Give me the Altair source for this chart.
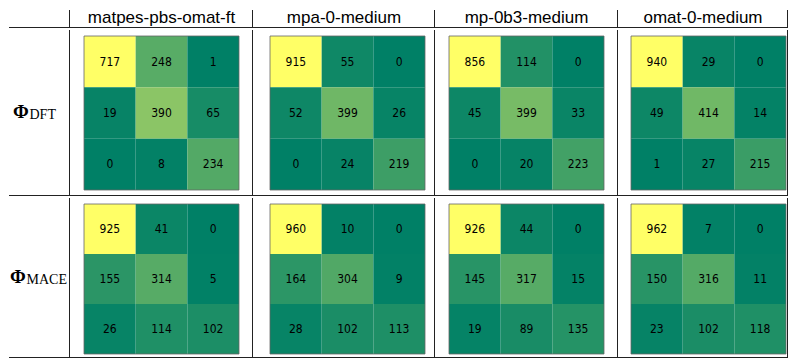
import altair as alt
import pandas as pd

# ---- data ----
models = ["matpes-pbs-omat-ft", "mpa-0-medium", "mp-0b3-medium", "omat-0-medium"]
row_labels = ["DFT", "MACE"]

dft_matpes = [[717, 248, 1], [19, 390, 65], [0, 8, 234]]
dft_mpa = [[915, 55, 0], [52, 399, 26], [0, 24, 219]]
dft_mp0b3 = [[856, 114, 0], [45, 399, 33], [0, 20, 223]]
dft_omat = [[940, 29, 0], [49, 414, 14], [1, 27, 215]]

mace_matpes = [[925, 41, 0], [155, 314, 5], [26, 114, 102]]
mace_mpa = [[960, 10, 0], [164, 304, 9], [28, 102, 113]]
mace_mp0b3 = [[926, 44, 0], [145, 317, 15], [19, 89, 135]]
mace_omat = [[962, 7, 0], [150, 316, 11], [23, 102, 118]]

matrices = [
    [dft_matpes, dft_mpa, dft_mp0b3, dft_omat],
    [mace_matpes, mace_mpa, mace_mp0b3, mace_omat],
]

# ---- layout (pixels) ----
LABEL_W = 61
COL_W = [183, 182, 183, 170]
HEAD_H = 18
ROW_H = [166, 160]
HEAT_LEFT = [14, 17, 14, 13]
HEAT_TOP = [6, 6]
HEAT_W = 155
HEAT_H = [154, 150]
LABEL_X = [4, 1]
LABEL_BASE = [88, 85]
LINE = "#222222"
ONE = alt.Data(values=[{"k": 0}])


def borders(w, h):
    return [
        alt.Chart(ONE).mark_rule(color=LINE, strokeWidth=1).encode(
            x=alt.value(w - 0.5), y=alt.value(0), y2=alt.value(h)
        ),
        alt.Chart(ONE).mark_rule(color=LINE, strokeWidth=1).encode(
            x=alt.value(0), x2=alt.value(w), y=alt.value(h - 0.5)
        ),
    ]


def heat_cell(mat, w, h, left, top, hh):
    cw = HEAT_W / 3.0
    ch = hh / 3.0
    recs = []
    for i in range(3):
        for j in range(3):
            recs.append(dict(r0=i, r1=i + 1, rm=i + 0.5, c0=j, c1=j + 1, cm=j + 0.5, v=mat[i][j]))
    df = pd.DataFrame(recs)
    vmax = max(max(r) for r in mat)
    vmin = min(min(r) for r in mat)
    xs = alt.Scale(domain=[-left / cw, (w - left) / cw], nice=False, zero=False)
    ys = alt.Scale(domain=[-top / ch, (h - top) / ch], nice=False, zero=False, reverse=True)
    bottom_gap = h - top - hh
    xax = alt.Axis(values=[0.5, 1.5, 2.5], labels=False, title=None, domain=False,
                   grid=False, tickSize=3, tickColor="#999999", tickWidth=1,
                   offset=-bottom_gap)
    yax = alt.Axis(values=[0.5, 1.5, 2.5], labels=False, title=None, domain=False,
                   grid=False, tickSize=3, tickColor="#999999", tickWidth=1,
                   offset=-left)
    base = alt.Chart(df)
    rect = base.mark_rect().encode(
        x=alt.X("c0:Q", scale=xs, axis=xax),
        x2="c1:Q",
        y=alt.Y("r0:Q", scale=ys, axis=yax),
        y2="r1:Q",
        color=alt.Color("v:Q", scale=alt.Scale(domain=[vmin, vmax],
                                               range=["#008066", "#ffff66"],
                                               interpolate="rgb"), legend=None),
    )
    text = base.mark_text(font="DejaVu Sans Condensed, DejaVu Sans", fontSize=12,
                          color="black", baseline="middle").encode(
        x=alt.X("cm:Q", scale=xs, axis=None),
        y=alt.Y("rm:Q", scale=ys, axis=None),
        text="v:Q",
    )
    frame = alt.Chart(ONE).mark_rect(filled=False, stroke="#666666", strokeWidth=0.8).encode(
        x=alt.datum(0, scale=xs, axis=None), x2=alt.datum(3),
        y=alt.datum(0, scale=ys, axis=None), y2=alt.datum(3),
    )
    return alt.layer(rect, frame, text, *borders(w, h)).properties(width=w, height=h)


def header_cell(name, w, h):
    t = alt.Chart(alt.Data(values=[{"name": name}])).mark_text(
        font="Liberation Sans", fontSize=17, color="black", baseline="alphabetic", align="center"
    ).encode(x=alt.value(w / 2), y=alt.value(12.5), text="name:N")
    return alt.layer(t, *borders(w, h)).properties(width=w, height=h)


def label_cell(sub, w, h, x0, base_y):
    d = alt.Data(values=[{"phi": "Φ", "sub": sub}])
    phi = alt.Chart(d).mark_text(font="Liberation Serif", fontSize=19, fontWeight="bold",
                                 color="black", baseline="alphabetic", align="left").encode(
        x=alt.value(x0), y=alt.value(base_y), text="phi:N")
    s = alt.Chart(d).mark_text(font="Liberation Serif", fontSize=14, color="black",
                               baseline="alphabetic", align="left").encode(
        x=alt.value(x0 + 16.5), y=alt.value(base_y + 1), text="sub:N")
    return alt.layer(phi, s, *borders(w, h)).properties(width=w, height=h)


def empty_cell(w, h):
    return alt.layer(*borders(w, h)).properties(width=w, height=h)


header = alt.hconcat(
    empty_cell(LABEL_W, HEAD_H),
    *[header_cell(m, COL_W[k], HEAD_H) for k, m in enumerate(models)],
    spacing=0, bounds="flush",
)

rows = [header]
for r, lab in enumerate(row_labels):
    cells = [label_cell(lab, LABEL_W, ROW_H[r], LABEL_X[r], LABEL_BASE[r])]
    for k in range(len(models)):
        cells.append(heat_cell(matrices[r][k], COL_W[k], ROW_H[r], HEAT_LEFT[k],
                               HEAT_TOP[r], HEAT_H[r]))
    rows.append(alt.hconcat(*cells, spacing=0, bounds="flush").resolve_scale(color="independent"))

chart = (
    alt.vconcat(*rows, spacing=0)
    .resolve_scale(color="independent")
    .configure_view(stroke=None)
    .properties(padding=0)
)

chart.save("out.html", embed_options={"renderer": "svg", "actions": False})
